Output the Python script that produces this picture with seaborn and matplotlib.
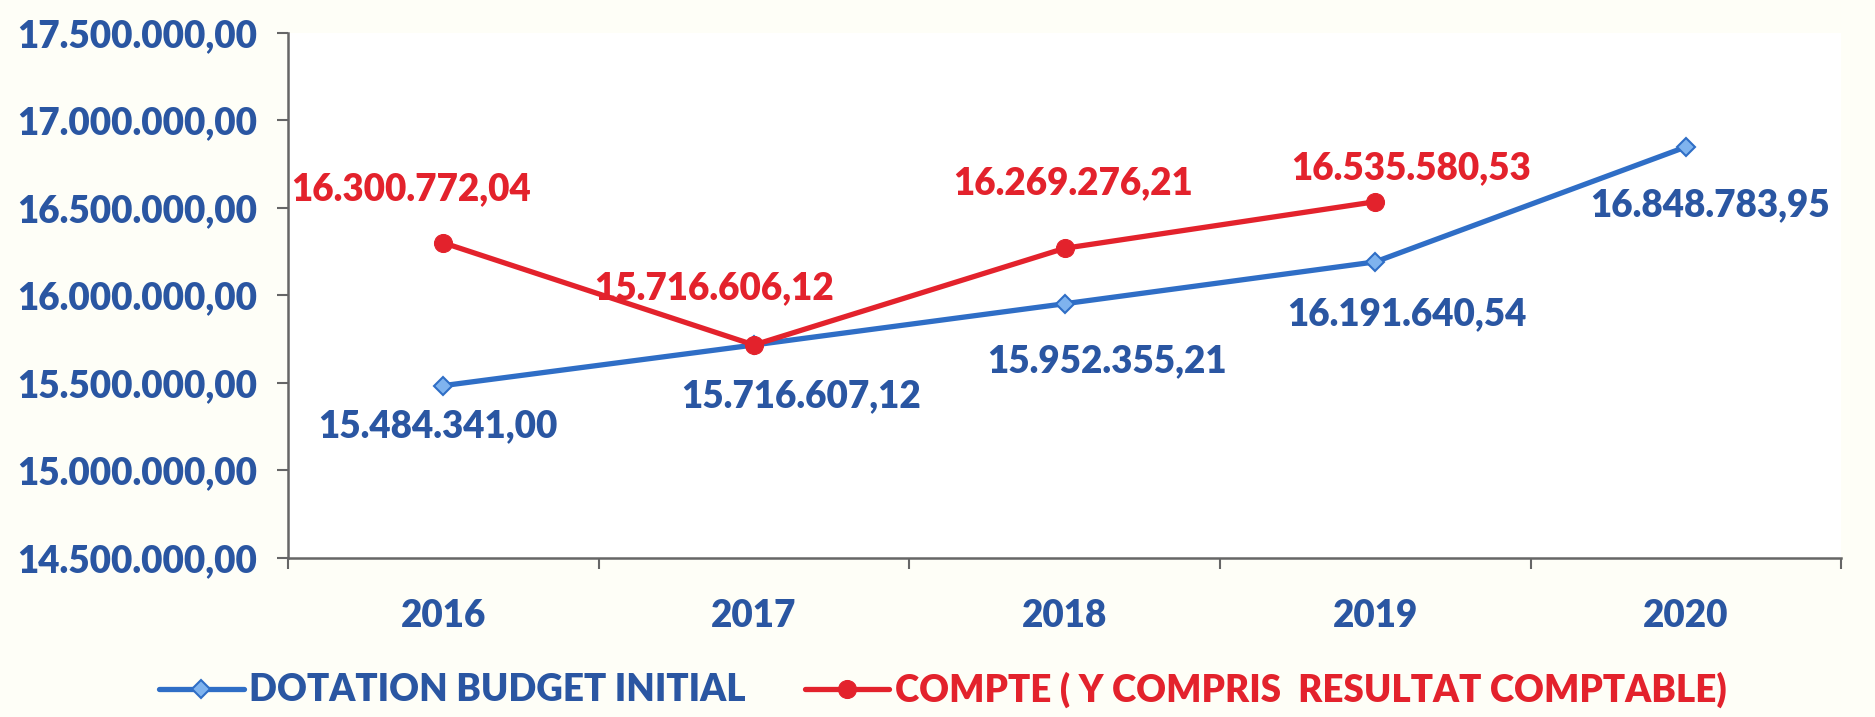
import numpy as np
import pandas as pd
import matplotlib.pyplot as plt
import seaborn as sns
from matplotlib.ticker import FixedLocator, FuncFormatter

YEARS = ['2016', '2017', '2018', '2019', '2020']
DOTATION = [15484341.00, 15716607.12, 15952355.21, 16191640.54, 16848783.95]
COMPTE = [16300772.04, 15716606.12, 16269276.21, 16535580.53]
LABEL_DOTATION = 'DOTATION BUDGET INITIAL'
LABEL_COMPTE = 'COMPTE ( Y COMPRIS  RESULTAT COMPTABLE)'

BLUE_LINE = '#2f6ec6'
BLUE_TEXT = '#2a56a2'
RED = '#e3222c'
FS = 26.5
WEIGHT = 'heavy'


def fr_number(v):
    # 16300772.04 -> 16.300.772,04
    s = f"{v:,.2f}"
    return s.replace(',', ' ').replace('.', ',').replace(' ', '.')


sns.set_theme(style='white')
plt.rcParams['font.family'] = ['Lato', 'DejaVu Sans']
plt.rcParams['font.weight'] = WEIGHT

fig = plt.figure(figsize=(18.75, 7.17), dpi=100, facecolor='#fefef7')
ax = fig.add_axes([0.1536, 0.222, 0.8284, 0.732])
ax.set_facecolor('white')

df_d = pd.DataFrame({'x': np.arange(len(DOTATION)), 'y': DOTATION})
df_c = pd.DataFrame({'x': np.arange(len(COMPTE)), 'y': COMPTE})

sns.lineplot(data=df_d, x='x', y='y', ax=ax, color=BLUE_LINE, linewidth=3.8,
             marker='D', markersize=9.5, markerfacecolor='#7fb3ee',
             markeredgecolor=BLUE_LINE, markeredgewidth=1.5, label=LABEL_DOTATION)
sns.lineplot(data=df_c, x='x', y='y', ax=ax, color=RED, linewidth=3.8,
             marker='o', markersize=13, markerfacecolor=RED,
             markeredgecolor=RED, label=LABEL_COMPTE)

# value labels (offsets in pixels)
blue_off = [(-5, -41), (47, -51), (42, -57), (32, -52), (24, -58)]
red_off = [(-32, 54), (-40, 57), (8, 65), (36, 34)]
for i, v in enumerate(DOTATION):
    ax.annotate(fr_number(v), (i, v), xytext=blue_off[i], textcoords='offset pixels',
                ha='center', va='center', fontsize=FS, fontweight=WEIGHT, color=BLUE_TEXT)
for i, v in enumerate(COMPTE):
    ax.annotate(fr_number(v), (i, v), xytext=red_off[i], textcoords='offset pixels',
                ha='center', va='center', fontsize=FS, fontweight=WEIGHT, color=RED)

ax.set_xlim(-0.5, len(YEARS) - 0.5)
ax.set_ylim(14500000, 17500000)
ax.yaxis.set_major_locator(FixedLocator(np.arange(14500000, 17500001, 500000)))
ax.yaxis.set_major_formatter(FuncFormatter(lambda v, p: fr_number(v)))
ax.set_xticks(range(len(YEARS)))
ax.set_xticklabels(YEARS)
ax.set_xticks(np.arange(-0.5, len(YEARS), 1), minor=True)
ax.tick_params(axis='y', which='major', left=True, length=8, width=1.5, color='#666666',
               labelsize=FS, labelcolor=BLUE_TEXT, pad=14)
ax.tick_params(axis='x', which='major', bottom=False, labelsize=FS, labelcolor=BLUE_TEXT, pad=24)
ax.tick_params(axis='x', which='minor', bottom=True, length=8, width=1.5, color='#666666')
for lab in ax.get_xticklabels() + ax.get_yticklabels():
    lab.set_fontweight(WEIGHT)
ax.set_xlabel('')
ax.set_ylabel('')

sns.despine(ax=ax)
for side in ['left', 'bottom']:
    ax.spines[side].set_color('#666666')
    ax.spines[side].set_linewidth(1.8)

leg = ax.legend(loc='center left', bbox_to_anchor=(-0.083, -0.251), ncol=2, frameon=False,
                fontsize=FS, handlelength=2.3, columnspacing=1.6, handletextpad=0.15,
                borderpad=0, borderaxespad=0)
for txt, col in zip(leg.get_texts(), [BLUE_TEXT, RED]):
    txt.set_color(col)
    txt.set_fontweight(WEIGHT)

fig.savefig('out.png', dpi=100, facecolor=fig.get_facecolor())
